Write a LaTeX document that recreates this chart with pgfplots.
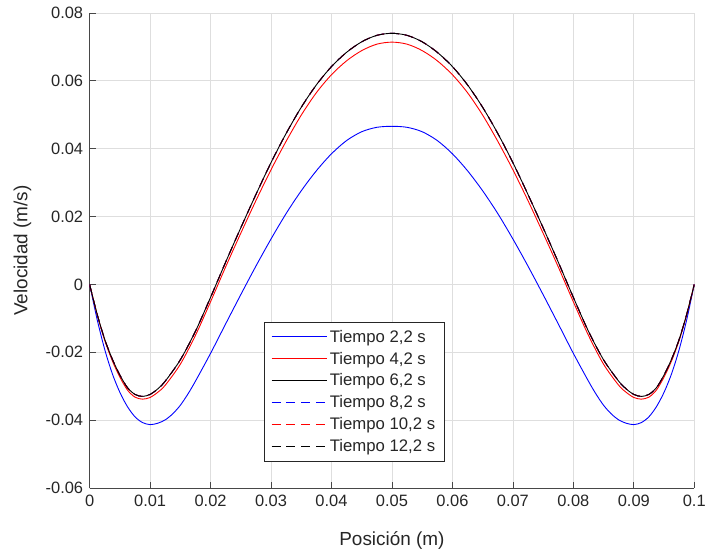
\documentclass[border=0pt]{standalone}
\usepackage{pgfplots}
\pgfplotsset{compat=1.18}
\usepackage{pgfplotstable}
\usepackage{fontspec}
\setmainfont{Liberation Sans}
\definecolor{axgray}{RGB}{38,38,38}
\definecolor{gridgray}{RGB}{222,222,222}

\pgfplotstableread{
x v
0 0
0.00125 -0.0104
0.0025 -0.0192
0.00375 -0.0263
0.005 -0.0318
0.00625 -0.0360
0.0075 -0.0390
0.00875 -0.0407
0.01 -0.0413
0.01125 -0.0409
0.0125 -0.0399
0.01375 -0.0381
0.015 -0.0356
0.01625 -0.0323
0.0175 -0.0285
0.02 -0.0203
0.0225 -0.0116
0.025 -0.0030
0.0275 0.0054
0.03 0.0134
0.0325 0.0209
0.035 0.0276
0.0375 0.0335
0.04 0.0385
0.0425 0.0424
0.045 0.0450
0.0475 0.0463
0.05 0.0466
0.0525 0.0463
0.055 0.0450
0.0575 0.0424
0.06 0.0385
0.0625 0.0335
0.065 0.0276
0.0675 0.0209
0.07 0.0134
0.0725 0.0054
0.075 -0.0030
0.0775 -0.0116
0.08 -0.0203
0.0825 -0.0285
0.08375 -0.0323
0.085 -0.0356
0.08625 -0.0381
0.0875 -0.0399
0.08875 -0.0409
0.09 -0.0413
0.09125 -0.0407
0.0925 -0.0390
0.09375 -0.0360
0.095 -0.0318
0.09625 -0.0263
0.0975 -0.0192
0.09875 -0.0104
0.1 0
}\tblue

\pgfplotstableread{
x v
0 0
0.00125 -0.0089
0.0025 -0.0165
0.00375 -0.0225
0.005 -0.0273
0.00625 -0.0311
0.0075 -0.0332
0.00875 -0.0338
0.01 -0.0333
0.01125 -0.0318
0.0125 -0.0297
0.015 -0.0235
0.0175 -0.0150
0.02 -0.0051
0.0225 0.0052
0.025 0.0151
0.0275 0.0247
0.03 0.0338
0.0325 0.0422
0.035 0.0499
0.0375 0.0565
0.04 0.0618
0.0425 0.0659
0.045 0.0689
0.0475 0.0708
0.05 0.0714
0.0525 0.0708
0.055 0.0689
0.0575 0.0659
0.06 0.0618
0.0625 0.0565
0.065 0.0499
0.0675 0.0422
0.07 0.0338
0.0725 0.0247
0.075 0.0151
0.0775 0.0052
0.08 -0.0051
0.0825 -0.0150
0.085 -0.0235
0.0875 -0.0297
0.08875 -0.0318
0.09 -0.0333
0.09125 -0.0338
0.0925 -0.0332
0.09375 -0.0311
0.095 -0.0273
0.09625 -0.0225
0.0975 -0.0165
0.09875 -0.0089
0.1 0
}\tred

\pgfplotstableread{
x v
0 0
0.00125 -0.0088
0.0025 -0.0162
0.00375 -0.0220
0.005 -0.0267
0.00625 -0.0304
0.0075 -0.0324
0.00875 -0.0330
0.01 -0.0324
0.01125 -0.0308
0.0125 -0.0285
0.015 -0.0222
0.0175 -0.0138
0.02 -0.0038
0.0225 0.0066
0.025 0.0167
0.0275 0.0265
0.03 0.0359
0.0325 0.0445
0.035 0.0522
0.0375 0.0588
0.04 0.0642
0.0425 0.0684
0.045 0.0715
0.0475 0.0734
0.05 0.0740
0.0525 0.0734
0.055 0.0715
0.0575 0.0684
0.06 0.0642
0.0625 0.0588
0.065 0.0522
0.0675 0.0445
0.07 0.0359
0.0725 0.0265
0.075 0.0167
0.0775 0.0066
0.08 -0.0038
0.0825 -0.0138
0.085 -0.0222
0.0875 -0.0285
0.08875 -0.0308
0.09 -0.0324
0.09125 -0.0330
0.0925 -0.0324
0.09375 -0.0304
0.095 -0.0267
0.09625 -0.0220
0.0975 -0.0162
0.09875 -0.0088
0.1 0
}\tblack

\begin{document}
\begin{tikzpicture}
\begin{axis}[
  scale only axis, width=607pt, height=477pt,
  xmin=0, xmax=0.1, ymin=-0.06, ymax=0.08,
  axis lines*=left,
  axis line style={axgray!85, line width=0.7pt},
  scaled ticks=false,
  xtick={0,0.01,0.02,0.03,0.04,0.05,0.06,0.07,0.08,0.09,0.1},
  xticklabels={0,0.01,0.02,0.03,0.04,0.05,0.06,0.07,0.08,0.09,0.1},
  ytick={-0.06,-0.04,-0.02,0,0.02,0.04,0.06,0.08},
  yticklabels={-0.06,-0.04,-0.02,0,0.02,0.04,0.06,0.08},
  tick align=inside, major tick length=6pt,
  tick style={axgray!85, line width=0.7pt},
  grid=major, grid style={gridgray, line width=0.7pt},
  ticklabel style={font=\fontsize{16.5}{19}\selectfont, text=axgray},
  xticklabel style={yshift=-3pt},
  yticklabel style={xshift=-3pt},
  xlabel={Posición (m)}, ylabel={Velocidad (m/s)},
  label style={font=\fontsize{19}{22}\selectfont, text=axgray},
  xlabel style={at={(axis description cs:0.5,0)}, anchor=center, yshift=-53pt},
  ylabel style={at={(axis description cs:-0.111,0.5)}, anchor=center},
  legend style={at={(0.288,0.350)}, anchor=north west, draw=axgray, text=axgray, line width=0.7pt,
    font=\fontsize{16.8}{19}\selectfont, fill=white,
    inner xsep=7pt, inner ysep=6pt, row sep=4.3pt, cells={anchor=west}},
  legend image code/.code={\draw[#1] (0pt,0pt) -- (56pt,0pt);},
  every axis plot/.append style={line width=0.9pt},
]
\addplot[draw=blue, smooth] table[x=x,y=v] {\tblue};
\addlegendentry{Tiempo 2,2 s}
\addplot[draw=red, smooth] table[x=x,y=v] {\tred};
\addlegendentry{Tiempo 4,2 s}
\addplot[draw=black, smooth] table[x=x,y=v] {\tblack};
\addlegendentry{Tiempo 6,2 s}
\addplot[draw=blue, dash pattern=on 9pt off 6pt, smooth] table[x=x,y=v] {\tblack};
\addlegendentry{Tiempo 8,2 s}
\addplot[draw=red, dash pattern=on 9pt off 6pt, smooth] table[x=x,y=v] {\tblack};
\addlegendentry{Tiempo 10,2 s}
\addplot[draw=black, dash pattern=on 9pt off 6pt, smooth] table[x=x,y=v] {\tblack};
\addlegendentry{Tiempo 12,2 s}
\end{axis}
\path (current axis.south west) ++(-90pt,-67pt) rectangle ([shift={(12pt,13pt)}]current axis.north east);
\end{tikzpicture}
\end{document}
